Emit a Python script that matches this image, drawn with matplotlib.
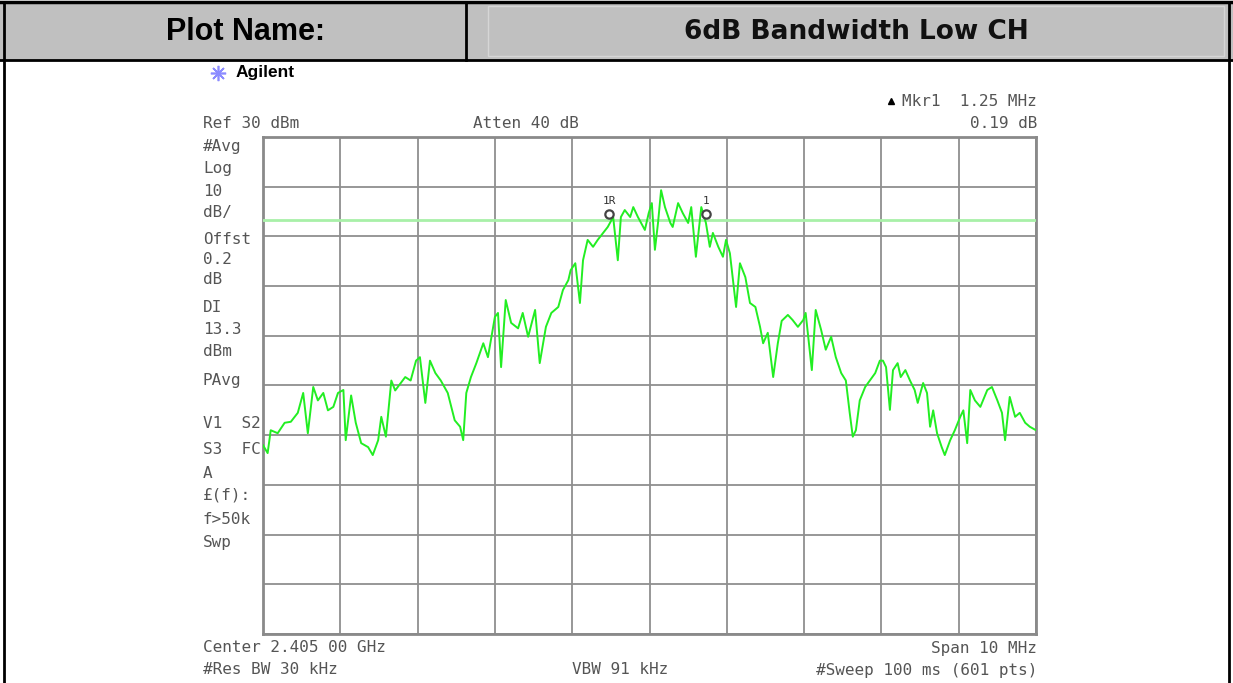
import matplotlib
matplotlib.use('Agg')
import matplotlib.pyplot as plt
from matplotlib.patches import Rectangle

# spectrum trace: frequency offset from 2.405 GHz (MHz) and level (dBm)
freq = [-5.00, -4.94, -4.90, -4.81, -4.72, -4.64, -4.55, -4.48, -4.42, -4.35,
        -4.29, -4.22, -4.16, -4.09, -4.03, -3.96, -3.93, -3.86, -3.80, -3.73,
        -3.64, -3.58, -3.51, -3.47, -3.41, -3.34, -3.29, -3.16, -3.09, -3.02,
        -2.97, -2.90, -2.84, -2.77, -2.70, -2.61, -2.52, -2.45, -2.41, -2.37,
        -2.31, -2.24, -2.15, -2.09, -2.00, -1.96, -1.92, -1.86, -1.79, -1.70,
        -1.64, -1.57, -1.48, -1.42, -1.34, -1.27, -1.18, -1.12, -1.05, -1.02,
        -0.96, -0.90, -0.86, -0.80, -0.73, -0.67, -0.60, -0.54, -0.47, -0.41,
        -0.37, -0.32, -0.25, -0.21, -0.15, -0.06, -0.01, 0.03, 0.07, 0.11,
        0.15, 0.20, 0.27, 0.30, 0.37, 0.43, 0.50, 0.54, 0.60, 0.67,
        0.73, 0.78, 0.82, 0.89, 0.95, 0.99, 1.04, 1.08, 1.12, 1.17,
        1.24, 1.30, 1.37, 1.43, 1.47, 1.53, 1.60, 1.66, 1.71, 1.79,
        1.85, 1.92, 1.99, 2.02, 2.10, 2.15, 2.22, 2.28, 2.35, 2.41,
        2.48, 2.54, 2.59, 2.63, 2.67, 2.72, 2.79, 2.85, 2.92, 2.98,
        3.02, 3.06, 3.11, 3.15, 3.21, 3.25, 3.31, 3.37, 3.43, 3.47,
        3.54, 3.59, 3.63, 3.67, 3.72, 3.78, 3.82, 3.89, 3.95, 4.02,
        4.06, 4.11, 4.15, 4.21, 4.28, 4.37, 4.43, 4.50, 4.56, 4.60,
        4.66, 4.73, 4.79, 4.86, 4.92, 5.00]
level = [-32.0, -33.6, -29.0, -29.6, -27.5, -27.3, -25.5, -21.5, -29.6, -20.3,
         -23.0, -21.5, -25.0, -24.3, -21.5, -20.9, -31.0, -22.0, -27.5, -31.6,
         -32.4, -34.0, -31.0, -26.3, -30.3, -19.0, -21.0, -18.3, -19.0, -15.0,
         -14.3, -23.5, -15.0, -17.5, -19.0, -21.5, -27.0, -28.3, -31.0, -21.5,
         -18.3, -15.5, -11.5, -14.3, -6.2, -5.4, -16.3, -2.8, -7.4, -8.5,
         -5.4, -10.2, -4.8, -15.5, -8.2, -5.4, -4.2, -0.8, 1.2, 3.2,
         4.6, -3.4, 5.2, 9.3, 7.9, 9.3, 10.7, 11.9, 13.9, 5.2,
         13.9, 15.3, 13.9, 15.9, 13.9, 11.3, 14.7, 16.7, 7.3, 12.7,
         19.3, 15.9, 12.7, 11.9, 16.7, 14.7, 12.7, 15.9, 5.9, 15.9,
         12.7, 7.9, 10.7, 7.9, 5.9, 9.3, 6.6, 1.2, -4.2, 4.6,
         1.8, -3.4, -4.2, -8.2, -11.5, -9.4, -18.3, -11.5, -7.0, -5.8,
         -6.8, -8.2, -6.8, -5.4, -16.9, -4.8, -8.8, -12.8, -10.2, -14.3,
         -17.5, -19.0, -25.5, -30.3, -29.0, -23.0, -20.3, -19.0, -17.5, -15.0,
         -15.0, -16.3, -24.9, -16.9, -15.5, -18.3, -16.9, -19.0, -20.9, -23.5,
         -19.5, -21.5, -28.3, -25.0, -29.6, -32.4, -34.0, -31.0, -29.0, -26.3,
         -25.0, -31.6, -20.9, -23.0, -24.3, -20.9, -20.3, -23.0, -25.5, -31.0,
         -22.3, -26.3, -25.5, -27.5, -28.3, -29.0]

display_line = 13.3
marker_freqs = [-0.52, 0.73]
marker_levels = [14.5, 14.5]
marker_names = ['1R', '1']

left_labels = ['#Avg', 'Log', '10', 'dB/', 'Offst', '0.2', 'dB', 'DI', '13.3',
               'dBm', 'PAvg', 'V1  S2', 'S3  FC', 'A', '£(f):', 'f>50k', 'Swp']
left_label_y = [146, 168, 191, 213, 239, 259, 279, 307, 330, 352, 380,
                424, 450, 473, 495, 519, 542]

fig = plt.figure(figsize=(12.33, 6.83), dpi=100)

# page layer in pixel units
bg = fig.add_axes([0, 0, 1, 1])
bg.set_xlim(0, 1233)
bg.set_ylim(683, 0)
bg.axis('off')

bg.add_patch(Rectangle((0, 2), 1233, 58, facecolor='#c0c0c0', edgecolor='none'))
bg.add_patch(Rectangle((488, 6), 736, 50, facecolor='none', edgecolor='#d6d6d6', lw=1))
bg.plot([0, 1233], [2, 2], color='black', lw=2.5)
bg.plot([0, 1233], [60, 60], color='black', lw=2)
bg.plot([466, 466], [2, 60], color='black', lw=2)
bg.plot([4, 4], [2, 683], color='black', lw=2)
bg.plot([1229, 1229], [2, 683], color='black', lw=2)
bg.text(245, 32, 'Plot Name:', ha='center', va='center', fontsize=22,
        fontweight='bold', family='Liberation Sans')
bg.text(856, 32, '6dB Bandwidth Low CH', ha='center', va='center', fontsize=19,
        fontweight='bold', family='DejaVu Sans', color='#111111')

# analyzer screen annotations
mono = 'DejaVu Sans Mono'
gray = '#555555'
fs = 11.5
bg.plot([218], [73], marker=(8, 2, 0), markersize=11, color='#8c8cff', mew=1.2)
bg.text(236, 73, 'Agilent', ha='left', va='center', fontsize=12.5, fontweight='bold',
        family='Liberation Sans')
bg.plot([891], [101], marker='^', markersize=5, color='black')
bg.text(1037, 101, 'Mkr1  1.25 MHz', ha='right', va='center', fontsize=fs,
        family=mono, color=gray)
bg.text(1037, 124, '0.19 dB', ha='right', va='center', fontsize=fs, family=mono, color=gray)
bg.text(203, 124, 'Ref 30 dBm', ha='left', va='center', fontsize=fs, family=mono, color=gray)
bg.text(473, 124, 'Atten 40 dB', ha='left', va='center', fontsize=fs, family=mono, color=gray)
for lab, yy in zip(left_labels, left_label_y):
    bg.text(203, yy, lab, ha='left', va='center', fontsize=fs, family=mono, color=gray)
bg.text(203, 648, 'Center 2.405 00 GHz', ha='left', va='center', fontsize=fs,
        family=mono, color=gray)
bg.text(1037, 648, 'Span 10 MHz', ha='right', va='center', fontsize=fs, family=mono, color=gray)
bg.text(203, 670, '#Res BW 30 kHz', ha='left', va='center', fontsize=fs, family=mono, color=gray)
bg.text(572, 670, 'VBW 91 kHz', ha='left', va='center', fontsize=fs, family=mono, color=gray)
bg.text(1037, 670, '#Sweep 100 ms (601 pts)', ha='right', va='center', fontsize=fs,
        family=mono, color=gray)

# trace graticule
ax = fig.add_axes([263 / 1233, 1 - 634 / 683, 773 / 1233, 497 / 683])
ax.set_xlim(-5, 5)
ax.set_ylim(-70, 30)
ax.set_xticks([-5 + i for i in range(11)])
ax.set_yticks([-70 + 10 * i for i in range(11)])
ax.tick_params(length=0, labelbottom=False, labelleft=False)
ax.grid(True, color='#8f8f8f', lw=1.3)
for s in ax.spines.values():
    s.set_color('#8a8a8a')
    s.set_linewidth(2)

ax.axhline(display_line, color='#a8f0a8', lw=2, zorder=3)
ax.plot(freq, level, color='#22ee22', lw=1.4, zorder=4)
ax.plot(marker_freqs, marker_levels, 'o', ms=6, mfc='white', mec='#444444', mew=1.6, zorder=5)
for mf, ml, name in zip(marker_freqs, marker_levels, marker_names):
    ax.text(mf, ml + 2.6, name, ha='center', va='center', fontsize=8, family=mono,
            color='#333333', zorder=5)

fig.savefig('out.png', dpi=100)
